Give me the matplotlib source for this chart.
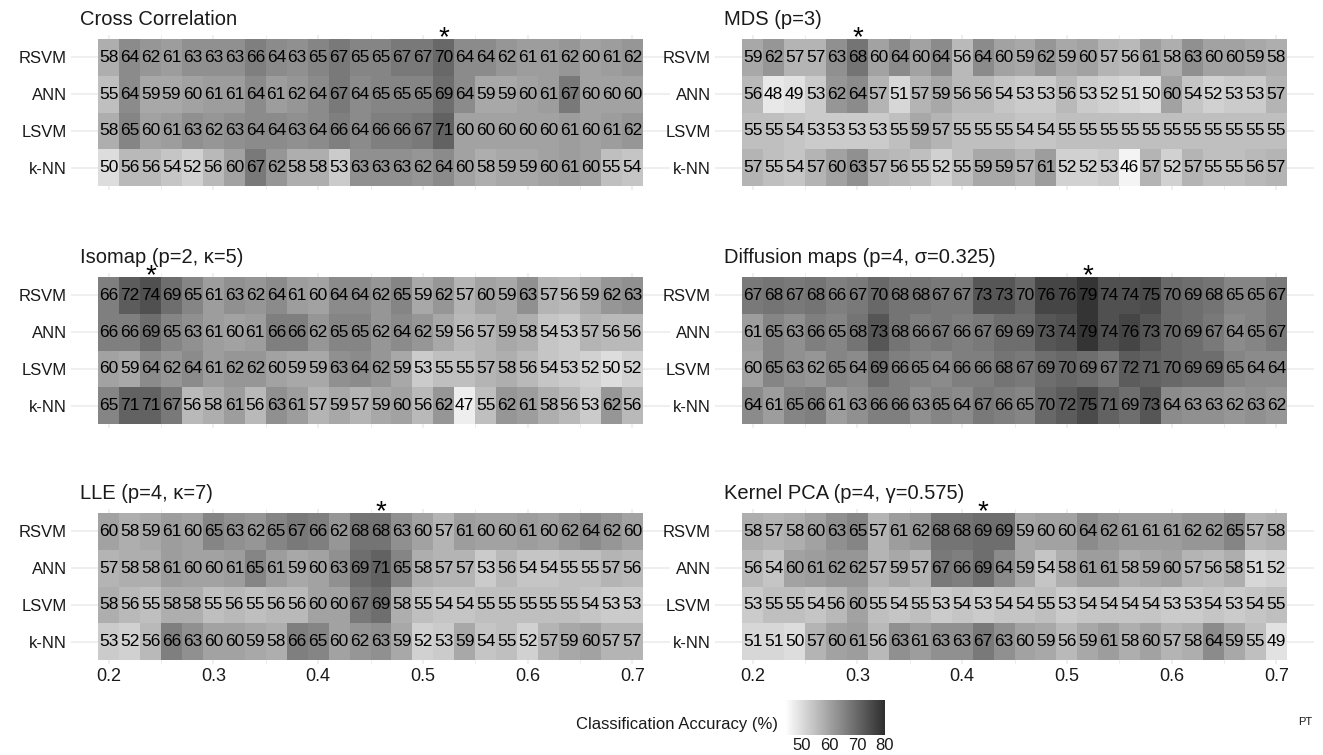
import numpy as np
import matplotlib
matplotlib.use("Agg")
import matplotlib.pyplot as plt
from matplotlib.colors import LinearSegmentedColormap, Normalize
from matplotlib.cm import ScalarMappable

plt.rcParams['font.family'] = ['Liberation Sans', 'DejaVu Sans']

# PT values (x) and classifiers (y, top to bottom)
pt = [0.20, 0.22, 0.24, 0.26, 0.28, 0.30, 0.32, 0.34, 0.36, 0.38, 0.40, 0.42, 0.44,
      0.46, 0.48, 0.50, 0.52, 0.54, 0.56, 0.58, 0.60, 0.62, 0.64, 0.66, 0.68, 0.70]
classifiers = ["RSVM", "ANN", "LSVM", "k-NN"]

titles = ["Cross Correlation", "MDS (p=3)", "Isomap (p=2, κ=5)",
          "Diffusion maps (p=4, σ=0.325)", "LLE (p=4, κ=7)", "Kernel PCA (p=4, γ=0.575)"]
best_pt = [0.52, 0.30, 0.24, 0.52, 0.46, 0.42]

cross_corr = [
    [58, 64, 62, 61, 63, 63, 63, 66, 64, 63, 65, 67, 65, 65, 67, 67, 70, 64, 64, 62, 61, 61, 62, 60, 61, 62],
    [55, 64, 59, 59, 60, 61, 61, 64, 61, 62, 64, 67, 64, 65, 65, 65, 69, 64, 59, 59, 60, 61, 67, 60, 60, 60],
    [58, 65, 60, 61, 63, 62, 63, 64, 64, 63, 64, 66, 64, 66, 66, 67, 71, 60, 60, 60, 60, 60, 61, 60, 61, 62],
    [50, 56, 56, 54, 52, 56, 60, 67, 62, 58, 58, 53, 63, 63, 63, 62, 64, 60, 58, 59, 59, 60, 61, 60, 55, 54],
]
mds = [
    [59, 62, 57, 57, 63, 68, 60, 64, 60, 64, 56, 64, 60, 59, 62, 59, 60, 57, 56, 61, 58, 63, 60, 60, 59, 58],
    [56, 48, 49, 53, 62, 64, 57, 51, 57, 59, 56, 56, 54, 53, 53, 56, 53, 52, 51, 50, 60, 54, 52, 53, 53, 57],
    [55, 55, 54, 53, 53, 53, 53, 55, 59, 57, 55, 55, 55, 54, 54, 55, 55, 55, 55, 55, 55, 55, 55, 55, 55, 55],
    [57, 55, 54, 57, 60, 63, 57, 56, 55, 52, 55, 59, 59, 57, 61, 52, 52, 53, 46, 57, 52, 57, 55, 55, 56, 57],
]
isomap = [
    [66, 72, 74, 69, 65, 61, 63, 62, 64, 61, 60, 64, 64, 62, 65, 59, 62, 57, 60, 59, 63, 57, 56, 59, 62, 63],
    [66, 66, 69, 65, 63, 61, 60, 61, 66, 66, 62, 65, 65, 62, 64, 62, 59, 56, 57, 59, 58, 54, 53, 57, 56, 56],
    [60, 59, 64, 62, 64, 61, 62, 62, 60, 59, 59, 63, 64, 62, 59, 53, 55, 55, 57, 58, 56, 54, 53, 52, 50, 52],
    [65, 71, 71, 67, 56, 58, 61, 56, 63, 61, 57, 59, 57, 59, 60, 56, 62, 47, 55, 62, 61, 58, 56, 53, 62, 56],
]
diffusion = [
    [67, 68, 67, 68, 66, 67, 70, 68, 68, 67, 67, 73, 73, 70, 76, 76, 79, 74, 74, 75, 70, 69, 68, 65, 65, 67],
    [61, 65, 63, 66, 65, 68, 73, 68, 66, 67, 66, 67, 69, 69, 73, 74, 79, 74, 76, 73, 70, 69, 67, 64, 65, 67],
    [60, 65, 63, 62, 65, 64, 69, 66, 65, 64, 66, 66, 68, 67, 69, 70, 69, 67, 72, 71, 70, 69, 69, 65, 64, 64],
    [64, 61, 65, 66, 61, 63, 66, 66, 63, 65, 64, 67, 66, 65, 70, 72, 75, 71, 69, 73, 64, 63, 63, 62, 63, 62],
]
lle = [
    [60, 58, 59, 61, 60, 65, 63, 62, 65, 67, 66, 62, 68, 68, 63, 60, 57, 61, 60, 60, 61, 60, 62, 64, 62, 60],
    [57, 58, 58, 61, 60, 60, 61, 65, 61, 59, 60, 63, 69, 71, 65, 58, 57, 57, 53, 56, 54, 54, 55, 55, 57, 56],
    [58, 56, 55, 58, 58, 55, 56, 55, 56, 56, 60, 60, 67, 69, 58, 55, 54, 54, 55, 55, 55, 55, 55, 54, 53, 53],
    [53, 52, 56, 66, 63, 60, 60, 59, 58, 66, 65, 60, 62, 63, 59, 52, 53, 59, 54, 55, 52, 57, 59, 60, 57, 57],
]
kpca = [
    [58, 57, 58, 60, 63, 65, 57, 61, 62, 68, 68, 69, 69, 59, 60, 60, 64, 62, 61, 61, 61, 62, 62, 65, 57, 58],
    [56, 54, 60, 61, 62, 62, 57, 59, 57, 67, 66, 69, 64, 59, 54, 58, 61, 61, 58, 59, 60, 57, 56, 58, 51, 52],
    [53, 55, 55, 54, 56, 60, 55, 54, 55, 53, 54, 53, 54, 54, 55, 53, 54, 54, 54, 54, 53, 53, 54, 53, 54, 55],
    [51, 51, 50, 57, 60, 61, 56, 63, 61, 63, 63, 67, 63, 60, 59, 56, 59, 61, 58, 60, 57, 58, 64, 59, 55, 49],
]
panels = [cross_corr, mds, isomap, diffusion, lle, kpca]

W, H = 1323, 755
fig = plt.figure(figsize=(W / 100, H / 100), dpi=100)

cmap = LinearSegmentedColormap.from_list("acc", ["#ffffff", "#2e2e2e"])
norm = Normalize(44, 80)


def px_axes(x0, y0, x1, y1):
    return fig.add_axes([x0 / W, 1 - y1 / H, (x1 - x0) / W, (y1 - y0) / H])


cols = [(71, 670), (715, 1314)]
rows = [(35, 190), (273, 428), (509, 664)]

x = np.array(pt)
x_edges = np.concatenate([x - 0.01, [x[-1] + 0.01]])
y_edges = np.arange(0.5, 5.0, 1.0)
grid_col = "#ebebeb"

for i, vals in enumerate(panels):
    r, c = divmod(i, 2)
    ax = px_axes(cols[c][0], rows[r][0], cols[c][1], rows[r][1])
    z = np.array(vals)[::-1]  # k-NN at the bottom
    ax.pcolormesh(x_edges, y_edges, z, cmap=cmap, norm=norm, zorder=2)
    for yi in range(4):
        for xi in range(len(pt)):
            ax.text(pt[xi], yi + 1, str(z[yi, xi]), ha="center", va="center",
                    fontsize=12.5, color="black", zorder=3)
    ax.text(best_pt[i], 4.52, "*", ha="center", va="center", fontsize=20, zorder=4)

    ax.set_xlim(0.164, 0.736)
    ax.set_ylim(0.4, 4.6)
    ax.set_xticks([0.2, 0.3, 0.4, 0.5, 0.6, 0.7])
    ax.set_xticks([0.25, 0.35, 0.45, 0.55, 0.65], minor=True)
    ax.set_yticks([1, 2, 3, 4])
    ax.set_yticklabels(classifiers[::-1])
    ax.grid(True, which="major", color=grid_col, linewidth=1.1, zorder=0)
    ax.grid(True, which="minor", axis="x", color=grid_col, linewidth=0.6, zorder=0)
    ax.set_axisbelow(True)
    ax.tick_params(which="both", length=0, labelsize=13, colors="#1a1a1a", pad=3)
    ax.tick_params(axis="y", labelsize=12)
    if r < 2:
        ax.tick_params(axis="x", labelbottom=False)
    for s in ax.spines.values():
        s.set_visible(False)
    ax.text(0.015, 1.10, titles[i], transform=ax.transAxes, ha="left", va="center",
            fontsize=14.5, color="#1a1a1a")

# colour bar
cax = px_axes(785, 700, 885, 735)
cb = fig.colorbar(ScalarMappable(norm=norm, cmap=cmap), cax=cax, orientation="horizontal",
                  ticks=[50, 60, 70, 80])
cb.outline.set_visible(False)
cax.tick_params(length=0, labelsize=12, colors="#1a1a1a", pad=2)
fig.text(778 / W, 1 - 724 / H, "Classification Accuracy (%)", ha="right", va="center",
         fontsize=12, color="#1a1a1a")
fig.text(1305 / W, 1 - 722 / H, "PT", ha="center", va="center", fontsize=8, color="#1a1a1a")

fig.savefig("out.png", dpi=100)
